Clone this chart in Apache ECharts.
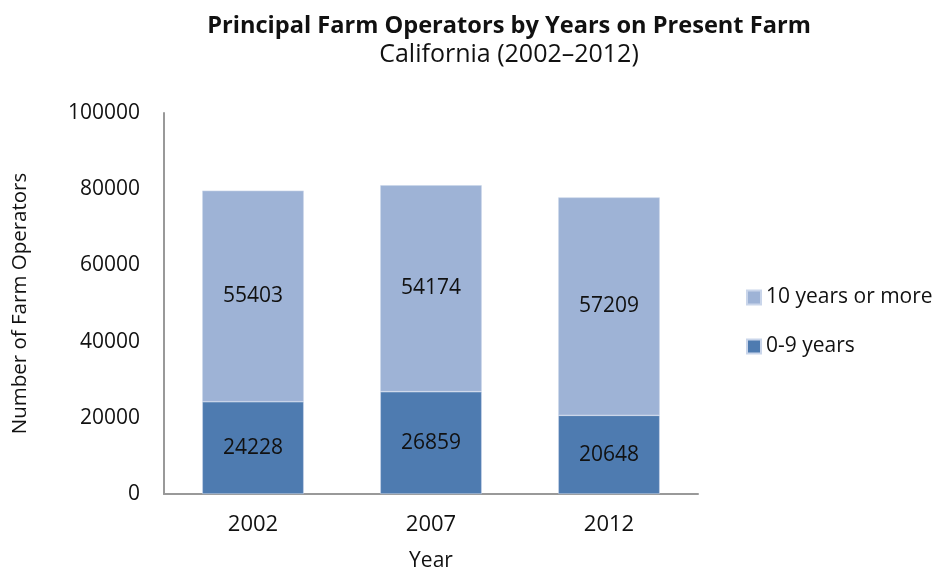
<!DOCTYPE html>
<html>
<head>
<meta charset="utf-8">
<style>
  html, body { margin: 0; padding: 0; background: #fff; }
  #chart { width: 934px; height: 570px; }
</style>
<script src="https://cdn.jsdelivr.net/npm/echarts@6/dist/echarts.min.js"></script>
</head>
<body>
<div id="chart"></div>
<script>
// Principal farm operators in California, split by years on present farm
const years = ['2002', '2007', '2012'];
const shortTenure = [24228, 26859, 20648];   // 0-9 years
const longTenure = [55403, 54174, 57209];    // 10 years or more
const yTicks = [0, 20000, 40000, 60000, 80000, 100000];

const FONT = 'Open Sans';
const chart = echarts.init(document.getElementById('chart'));

chart.setOption({
  backgroundColor: '#ffffff',
  animation: false,
  textStyle: { fontFamily: FONT },
  title: {
    text: 'Principal Farm Operators by Years on Present Farm',
    subtext: 'California (2002\u20132012)',
    left: 504,
    textAlign: 'center',
    top: 9,
    itemGap: 4,
    textStyle: { fontFamily: FONT, fontSize: 23.6, fontWeight: 'bold', color: '#111' },
    subtextStyle: { fontFamily: FONT, fontSize: 25, color: '#111' }
  },
  legend: {
    orient: 'vertical',
    left: 741,
    top: 282,
    itemWidth: 14,
    itemHeight: 14,
    itemGap: 28,
    icon: 'rect',
    data: ['10 years or more', '0-9 years'],
    textStyle: { fontFamily: FONT, fontSize: 21, color: '#111' }
  },
  grid: { left: 164, right: 236, top: 113, bottom: 76, outerBoundsMode: 'none', containLabel: false },
  xAxis: {
    type: 'category',
    data: years,
    name: 'Year',
    nameLocation: 'middle',
    nameGap: 57,
    nameTextStyle: { fontFamily: FONT, fontSize: 21, color: '#111' },
    axisLine: { lineStyle: { color: '#999', width: 2 } },
    axisTick: { show: false },
    axisLabel: { fontFamily: FONT, fontSize: 22, color: '#111', margin: 20 }
  },
  yAxis: {
    type: 'value',
    min: yTicks[0],
    max: yTicks[yTicks.length - 1],
    interval: yTicks[1] - yTicks[0],
    name: 'Number of Farm Operators',
    nameLocation: 'middle',
    nameGap: 133,
    nameTextStyle: { fontFamily: FONT, fontSize: 20.5, color: '#111' },
    axisLine: { show: true, lineStyle: { color: '#999', width: 2 } },
    axisTick: { show: false },
    splitLine: { show: false },
    axisLabel: {
      fontFamily: FONT, fontSize: 21, color: '#111', margin: 24,
      padding: [5, 0, 0, 0],
      formatter: (v) => String(v)
    }
  },
  series: [
    {
      name: '0-9 years',
      type: 'bar',
      stack: 'total',
      data: shortTenure,
      barCategoryGap: '43%',
      itemStyle: { color: '#4E7BB0', borderColor: '#C9D5EA', borderWidth: 0.6 },
      label: { show: true, position: 'inside', fontFamily: FONT, fontSize: 21, color: '#111' }
    },
    {
      name: '10 years or more',
      type: 'bar',
      stack: 'total',
      data: longTenure,
      itemStyle: { color: '#9EB3D6', borderColor: '#C9D5EA', borderWidth: 0.6 },
      label: { show: true, position: 'inside', fontFamily: FONT, fontSize: 21, color: '#111' }
    }
  ]
});
</script>
</body>
</html>
